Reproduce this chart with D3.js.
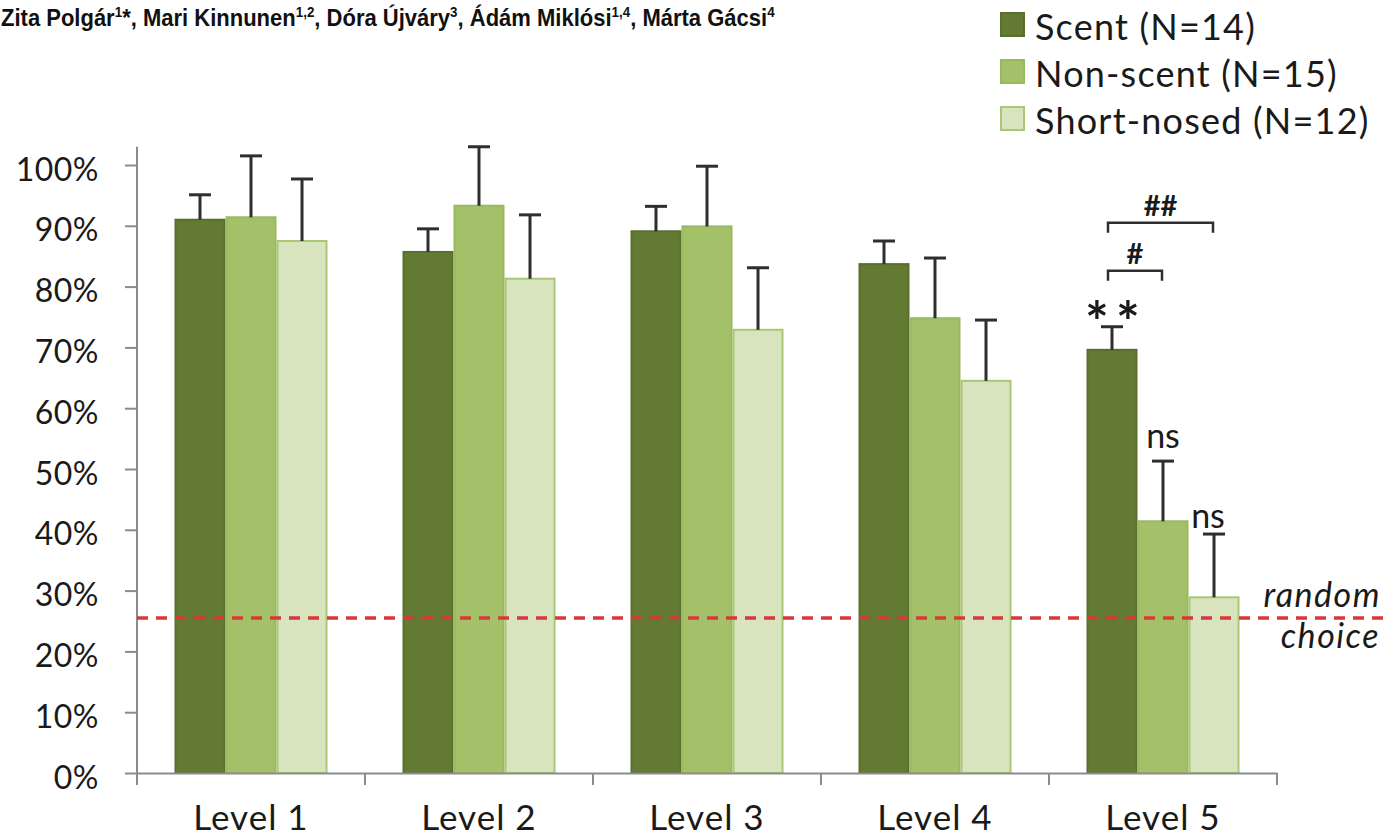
<!DOCTYPE html>
<html>
<head>
<meta charset="utf-8">
<script src="https://cdn.jsdelivr.net/npm/d3@7"></script>
<style>
  body { margin: 0; background: #fff; }
  svg { display: block; font-family: Lato, "Open Sans", sans-serif; }
</style>
</head>
<body>
<script>
const width = 1385;
const height = 836;
const marginTop = 165;    // y of the 100% tick
const marginBottom = 63;  // below the 0% line
const marginLeft = 137;
const marginRight = 108;

// data
const levels = ["Level 1", "Level 2", "Level 3", "Level 4", "Level 5"];
const groups = ["Scent (N=14)", "Non-scent (N=15)", "Short-nosed (N=12)"];
const scentMean = [0.910, 0.857, 0.891, 0.837, 0.696];
const scentErr = [0.041, 0.038, 0.041, 0.038, 0.038];
const nonScentMean = [0.914, 0.933, 0.899, 0.748, 0.414];
const nonScentErr = [0.101, 0.097, 0.099, 0.099, 0.099];
const shortMean = [0.875, 0.813, 0.729, 0.645, 0.289];
const shortErr = [0.102, 0.105, 0.102, 0.100, 0.104];
const yTicks = [0, 0.1, 0.2, 0.3, 0.4, 0.5, 0.6, 0.7, 0.8, 0.9, 1.0];
const chance = 0.255;

const fills = ["#637a33", "#a4c16a", "#d8e4bd"];
const strokes = ["#5a6f2e", "#9ab85f", "#a9c874"];

const means = [scentMean, nonScentMean, shortMean];
const errs = [scentErr, nonScentErr, shortErr];
const data = [];
levels.forEach((lv, i) => {
  groups.forEach((g, j) => {
    data.push({level: lv, group: g, mean: means[j][i], err: errs[j][i], k: j});
  });
});

const svg = d3.select("body").append("svg")
  .attr("width", width)
  .attr("height", height)
  .attr("viewBox", [0, 0, width, height]);

const x = d3.scaleBand()
  .domain(levels)
  .range([marginLeft, width - marginRight])
  .padding(0);

const xs = d3.scaleBand()
  .domain(groups)
  .range([0, x.bandwidth()])
  .paddingInner(0)
  .paddingOuter(0.735);

const y = d3.scaleLinear()
  .domain([0, 1])
  .range([height - marginBottom, marginTop]);

// authors line at the top
const authors = svg.append("text")
  .attr("x", 0)
  .attr("y", 26)
  .attr("font-family", "'Liberation Sans', Arial, sans-serif")
  .attr("font-weight", "bold")
  .attr("font-size", 23)
  .attr("fill", "#111");
const parts = [["Zita Polgár", "1"], ["*, Mari Kinnunen", "1,2"], [", Dóra Újváry", "3"],
               [", Ádám Miklósi", "1,4"], [", Márta Gácsi", "4"]];
parts.forEach((p, i) => {
  authors.append("tspan").attr("dy", i === 0 ? 0 : 9).text(p[0]);
  authors.append("tspan").attr("font-size", 14).attr("dy", -9).text(p[1]);
});
const aw = authors.node().getComputedTextLength();
authors.attr("transform", `translate(1,0) scale(${774 / aw},1)`);

// y axis
const yAxis = svg.append("g")
  .attr("transform", `translate(${marginLeft},0)`)
  .call(d3.axisLeft(y).tickValues(yTicks).tickFormat(d3.format(".0%"))
    .tickSize(12).tickPadding(26).tickSizeOuter(0));
yAxis.select(".domain").remove();
yAxis.append("line")
  .attr("x1", 0).attr("x2", 0)
  .attr("y1", y(1.03)).attr("y2", y(0))
  .attr("stroke", "#8c8c8c").attr("stroke-width", 2);
yAxis.selectAll(".tick line").attr("stroke", "#8c8c8c").attr("stroke-width", 2);
yAxis.selectAll(".tick text")
  .attr("font-size", 32)
  .attr("font-family", "Lato, sans-serif")
  .attr("letter-spacing", 0.5)
  .attr("fill", "#1a1a1a")
  .attr("dy", 15);

// bars
svg.append("g")
  .selectAll("rect")
  .data(data)
  .join("rect")
    .attr("x", d => x(d.level) + xs(d.group) + 1)
    .attr("y", d => y(d.mean))
    .attr("width", xs.bandwidth() - 2)
    .attr("height", d => y(0) - y(d.mean))
    .attr("fill", d => fills[d.k])
    .attr("stroke", d => strokes[d.k])
    .attr("stroke-width", 2);

// error bars (upper only)
const eb = svg.append("g").attr("stroke", "#2e2e2e").attr("stroke-width", 3);
eb.selectAll("line.v")
  .data(data)
  .join("line")
    .attr("class", "v")
    .attr("x1", d => x(d.level) + xs(d.group) + xs.bandwidth() / 2)
    .attr("x2", d => x(d.level) + xs(d.group) + xs.bandwidth() / 2)
    .attr("y1", d => y(d.mean))
    .attr("y2", d => y(d.mean + d.err));
eb.selectAll("line.c")
  .data(data)
  .join("line")
    .attr("class", "c")
    .attr("x1", d => x(d.level) + xs(d.group) + xs.bandwidth() / 2 - 11)
    .attr("x2", d => x(d.level) + xs(d.group) + xs.bandwidth() / 2 + 11)
    .attr("y1", d => y(d.mean + d.err))
    .attr("y2", d => y(d.mean + d.err));

// x axis
const xAxis = svg.append("g")
  .attr("transform", `translate(0,${y(0)})`)
  .call(d3.axisBottom(x).tickSize(0).tickPadding(0).tickSizeOuter(0));
xAxis.select(".domain").attr("stroke", "#8c8c8c").attr("stroke-width", 2);
xAxis.selectAll(".tick text")
  .attr("font-size", 35)
  .attr("font-family", "Lato, sans-serif")
  .attr("letter-spacing", 1)
  .attr("fill", "#1a1a1a")
  .attr("y", 57)
  .attr("dy", 0);
xAxis.selectAll("line.bound")
  .data(levels.map(l => x(l)).concat([x.range()[1]]))
  .join("line")
    .attr("class", "bound")
    .attr("x1", d => d).attr("x2", d => d)
    .attr("y1", 0).attr("y2", 12)
    .attr("stroke", "#8c8c8c").attr("stroke-width", 2);

// random choice line
svg.append("line")
  .attr("x1", marginLeft)
  .attr("x2", width)
  .attr("y1", y(chance))
  .attr("y2", y(chance))
  .attr("stroke", "#d9383a")
  .attr("stroke-width", 3.5)
  .attr("stroke-dasharray", "11,8");
svg.append("text")
  .attr("x", width - 4).attr("y", y(chance) - 11)
  .attr("text-anchor", "end")
  .attr("font-style", "italic")
  .attr("font-size", 34)
  .attr("letter-spacing", 1.5)
  .attr("fill", "#1a1a1a")
  .text("random");
svg.append("text")
  .attr("x", width - 5).attr("y", y(chance) + 30)
  .attr("text-anchor", "end")
  .attr("font-style", "italic")
  .attr("font-size", 34)
  .attr("letter-spacing", 1.5)
  .attr("fill", "#1a1a1a")
  .text("choice");

// significance marks on Level 5
const lv = "Level 5";
const cx = g => x(lv) + xs(g) + xs.bandwidth() / 2;
const errTop = j => y(means[j][4] + errs[j][4]);

[-15, 16].forEach(dx => {
  svg.append("text")
    .attr("x", cx(groups[0]) + dx)
    .attr("y", errTop(0) + 15)
    .attr("text-anchor", "middle")
    .attr("font-size", 56)
    .attr("font-weight", "bold")
    .attr("fill", "#1a1a1a")
    .text("*");
});

svg.append("text")
  .attr("x", cx(groups[1]))
  .attr("y", errTop(1) - 13)
  .attr("text-anchor", "middle")
  .attr("font-size", 34)
  .attr("fill", "#1a1a1a")
  .text("ns");
svg.append("text")
  .attr("x", cx(groups[2]) - 6)
  .attr("y", errTop(2) - 6)
  .attr("text-anchor", "middle")
  .attr("font-size", 34)
  .attr("fill", "#1a1a1a")
  .text("ns");

const brackets = [
  {from: 0, to: 1, level: 0.826, label: "#"},
  {from: 0, to: 2, level: 0.905, label: "##"}
];
const br = svg.append("g");
brackets.forEach(b => {
  const x1 = cx(groups[b.from]) - 4;
  const x2 = cx(groups[b.to]) - 1;
  const yy = y(b.level);
  br.append("path")
    .attr("d", `M${x1},${yy + 10}V${yy}H${x2}V${yy + 10}`)
    .attr("fill", "none")
    .attr("stroke", "#2e2e2e")
    .attr("stroke-width", 2.5);
  br.append("text")
    .attr("x", (x1 + x2) / 2)
    .attr("y", yy - 7)
    .attr("text-anchor", "middle")
    .attr("font-size", 29)
    .attr("font-weight", "bold")
    .attr("fill", "#1a1a1a")
    .text(b.label);
});

// legend
const legend = svg.append("g").attr("transform", "translate(1000,12)");
groups.forEach((g, j) => {
  legend.append("rect")
    .attr("x", 1).attr("y", j * 47 + 1)
    .attr("width", 23).attr("height", 23)
    .attr("fill", fills[j])
    .attr("stroke", strokes[j])
    .attr("stroke-width", 2);
  legend.append("text")
    .attr("x", 35).attr("y", j * 47 + 28)
    .attr("font-size", 36)
    .attr("letter-spacing", 1.2)
    .attr("fill", "#1a1a1a")
    .text(g);
});
</script>
</body>
</html>
